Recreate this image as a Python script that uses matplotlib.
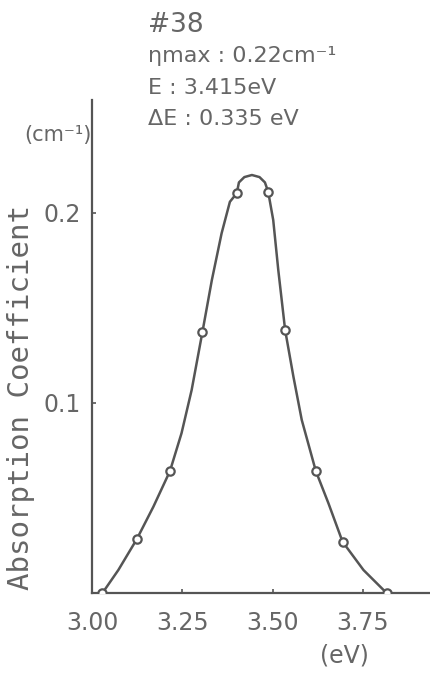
import matplotlib.pyplot as plt

# photon energy (eV) and absorption coefficient (cm^-1)
curve_e = [3.029, 3.073, 3.124, 3.170, 3.216, 3.248, 3.276, 3.306, 3.332, 3.359,
           3.382, 3.401, 3.407, 3.422, 3.443, 3.464, 3.479, 3.488, 3.502, 3.516,
           3.535, 3.558, 3.581, 3.620, 3.655, 3.694, 3.752, 3.816]
curve_k = [0.0, 0.0121, 0.0283, 0.0454, 0.0642, 0.0841, 0.1068, 0.1375, 0.1647, 0.1893,
           0.2059, 0.2104, 0.2161, 0.2189, 0.2200, 0.2189, 0.2161, 0.2112, 0.1963, 0.1700,
           0.1384, 0.1138, 0.0911, 0.0642, 0.0472, 0.0270, 0.0121, 0.0]

# measured points (the small circles)
meas_e = [3.029, 3.124, 3.216, 3.306, 3.401, 3.488, 3.535, 3.620, 3.694, 3.816]
meas_k = [0.0, 0.0283, 0.0642, 0.1375, 0.2104, 0.2112, 0.1384, 0.0642, 0.0270, 0.0]

xticks = [3.00, 3.25, 3.50, 3.75]
xtick_labels = ['3.00', '3.25', '3.50', '3.75']
yticks = [0.1, 0.2]
ytick_labels = ['0.1', '0.2']

notes = ['#38', 'ηmax : 0.22cm⁻¹', 'E : 3.415eV', 'ΔE : 0.335 eV']

ink = '#555555'
txt = '#666666'

fig = plt.figure(figsize=(4.3, 6.74), dpi=100)
ax = fig.add_axes([92/430, 81/674, 338/430, 493/674])

ax.plot(curve_e, curve_k, color=ink, lw=1.8, solid_joinstyle='round', zorder=2)
ax.plot(meas_e, meas_k, 'o', ms=6, mfc='white', mec=ink, mew=1.6, zorder=3)

ax.set_xlim(3.0, 3.0 + 338/361)
ax.set_ylim(0, 493/1900)

for s in ['top', 'right']:
    ax.spines[s].set_visible(False)
for s in ['left', 'bottom']:
    ax.spines[s].set_color(ink)
    ax.spines[s].set_linewidth(1.6)

ax.set_xticks(xticks)
ax.set_xticklabels(xtick_labels)
ax.set_yticks(yticks)
ax.set_yticklabels(ytick_labels)
ax.tick_params(axis='both', direction='in', length=3, width=1.2, color=ink,
               labelcolor=txt, labelsize=17)
ax.tick_params(axis='x', pad=13)
ax.tick_params(axis='y', pad=8)

# rotated axis title, placed by hand like the lettering in the drawing
fig.text(21/430, 1 - 397/674, 'Absorption Coefficient', family='DejaVu Sans Mono',
         fontsize=21, color=txt, rotation=90, ha='center', va='center')

fig.text(58/430, 1 - 135/674, '(cm⁻¹)', fontsize=15, color=txt, ha='center', va='center')
fig.text(344/430, 1 - 656/674, '(eV)', fontsize=17, color=txt, ha='center', va='center')

ys = [25, 56, 88, 119]
sizes = [19, 16, 16, 16]
for t, y, fs in zip(notes, ys, sizes):
    fig.text(148/430, 1 - y/674, t, fontsize=fs, color=txt, ha='left', va='center')

fig.savefig('out.png', dpi=100, facecolor='white')
